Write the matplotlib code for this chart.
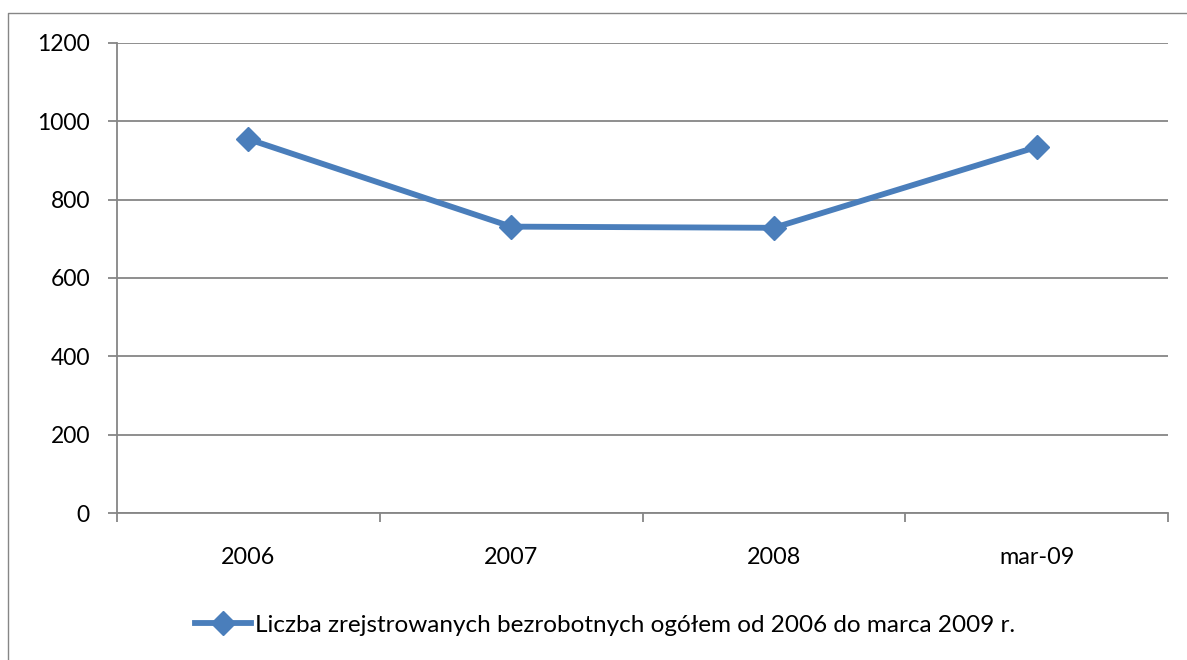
import matplotlib
matplotlib.use("Agg")
import matplotlib.pyplot as plt
from matplotlib.lines import Line2D

categories = ["2006", "2007", "2008", "mar-09"]
values = [954, 731, 728, 934]
series_name = "Liczba zrejstrowanych bezrobotnych ogółem od 2006 do marca 2009 r."
y_ticks = [0, 200, 400, 600, 800, 1000, 1200]

plt.rcParams['font.family'] = ['Lato', 'DejaVu Sans']
W, H = 1187, 660
fig = plt.figure(figsize=(W / 100, H / 100), dpi=100)
ax = fig.add_axes([117 / W, 1 - 513.3 / H, (1168 - 117) / W, (513.3 - 42.7) / H])

grey = '#868686'
blue = '#4A7EBB'

x = list(range(len(categories)))
ax.plot(x, values, color=blue, lw=4.2, marker='D', ms=12.5, mfc=blue, mec=blue,
        label=series_name, zorder=3, solid_joinstyle='round')

ax.set_xlim(-0.5, len(categories) - 0.5)
ax.set_ylim(0, 1200)
ax.set_yticks(y_ticks)
ax.set_yticklabels([str(v) for v in y_ticks])
ax.yaxis.grid(True, color=grey, lw=1.3)
ax.set_axisbelow(True)

ax.set_xticks([i - 0.5 for i in range(len(categories) + 1)])
ax.set_xticklabels([])
ax.set_xticks(x, minor=True)
ax.set_xticklabels(categories, minor=True)
ax.tick_params(axis='x', which='major', length=6.5, width=1.3, color=grey, direction='out')
ax.tick_params(axis='x', which='minor', length=0, pad=24, labelsize=16.8)
ax.tick_params(axis='y', length=6.5, width=1.3, color=grey, pad=13, labelsize=16.5)

for s in ['top', 'right']:
    ax.spines[s].set_visible(False)
for s in ['left', 'bottom']:
    ax.spines[s].set_color(grey)
    ax.spines[s].set_linewidth(1.3)

fig.legend(loc='center left', bbox_to_anchor=(195 / W, 1 - 625 / H), frameon=False,
           fontsize=17.5, borderpad=0, borderaxespad=0, handlelength=2.3,
           handletextpad=0.15, numpoints=1)

# outer chart border (cropped on right and bottom)
fig.add_artist(Line2D([7.5 / W, 7.5 / W, 1.0], [0, 1 - 13 / H, 1 - 13 / H],
                      transform=fig.transFigure, color=grey, lw=1.0))

fig.savefig('out.png', dpi=100)
